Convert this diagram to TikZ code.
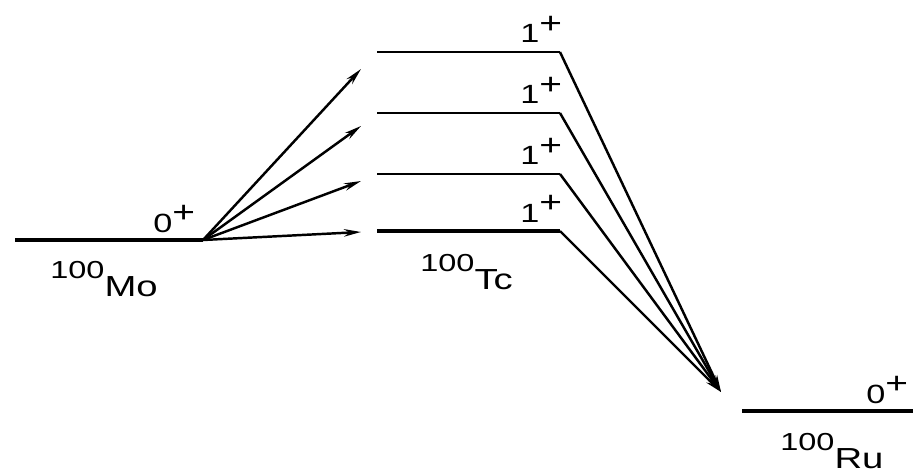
\documentclass[tikz,border=0pt]{standalone}
\usepackage{fontspec}
\setmainfont{Liberation Sans}
\usetikzlibrary{arrows.meta, positioning, calc}

% nuclide name with mass number, and spin-parity label
\newcommand{\nucl}[2]{\scalebox{1.32}[1]{\raisebox{0.36cm}{\fontsize{14}{14}\selectfont #1}\fontsize{16.5}{16.5}\selectfont #2}}
\newcommand{\jpi}[1]{\scalebox{1.3}[1]{\fontsize{15}{15}\selectfont #1\raisebox{0.2cm}{\fontsize{17}{17}\selectfont +}}}

\begin{document}
\begin{tikzpicture}[
    x=0.02cm, y=-0.02cm,
    >=Stealth,
    statelevel/.style={line width=1.7pt},
    groundlevel/.style={line width=2.5pt},
    feed/.style={line width=1.4pt, -{Stealth[length=3.4mm, width=1.5mm]}},
    decay/.style={line width=1.4pt, -{Stealth[length=3.4mm, width=1.5mm]}},
    spinlabel/.style={anchor=base west, inner sep=0pt},
    nuclabel/.style={anchor=base west, inner sep=0pt},
]
\useasboundingbox (0,0) rectangle (913,473);

% === Mo-100 ground state ===
\coordinate (mo-l) at (15,240);
\coordinate (mo-r) at (203,240);
\draw[groundlevel] (mo-l) -- (mo-r);
\node (mo-spin) [spinlabel] at (153,232) {\jpi{0}};
\node (mo-name) [nuclabel] at (50,296) {\nucl{100}{Mo}};

% === Tc-100 1+ states ===
\foreach \i/\y in {1/52, 2/113, 3/174, 4/231} {
    \coordinate (tc\i-l) at (377,\y);
    \coordinate (tc\i-r) at (560,\y);
    \node (tc\i-spin) [spinlabel] at (520,\y-9) {\jpi{1}};
}
\draw[statelevel] (tc1-l) -- (tc1-r);
\draw[statelevel] (tc2-l) -- (tc2-r);
\draw[statelevel] (tc3-l) -- (tc3-r);
\draw[groundlevel] (tc4-l) -- (tc4-r);
\node (tc-name) [nuclabel] at (420,289) {\nucl{100}{Tc}};

% === Ru-100 ground state ===
\coordinate (ru-l) at (742,411);
\coordinate (ru-r) at (913,411);
\draw[groundlevel] (ru-l) -- (ru-r);
\node (ru-spin) [spinlabel] at (866,403) {\jpi{0}};
\node (ru-name) [nuclabel] at (780,468) {\nucl{100}{Ru}};

% === Feeding arrows Mo -> Tc ===
\coordinate (in1) at (361,69);
\coordinate (in2) at (361,126);
\coordinate (in3) at (361,181);
\coordinate (in4) at (361,232);
\foreach \i in {1,...,4}
    \draw[feed] (mo-r) -- (in\i);

% === Decay arrows Tc -> Ru ===
\coordinate (sink) at (721,392);
\foreach \i in {1,...,4}
    \draw[decay] (tc\i-r) -- (sink);

\end{tikzpicture}
\end{document}
